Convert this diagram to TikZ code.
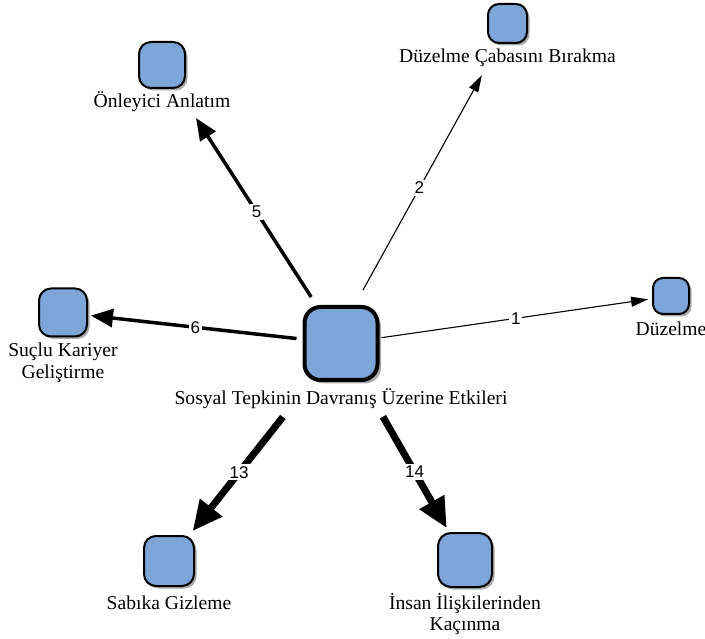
\documentclass[tikz,border=0pt]{standalone}
\usepackage{fontspec}
\setmainfont{Liberation Serif}
\newfontfamily\lsans{Liberation Sans}
\usetikzlibrary{arrows.meta,shadows}
\definecolor{boxblue}{RGB}{125,165,215}
\definecolor{shadowgray}{RGB}{170,170,170}
\begin{document}
\begin{tikzpicture}[x=1pt,y=-1pt,
  basebox/.style={draw=black, fill=boxblue, inner sep=0pt},
  smallbox/.style={basebox, line width=2pt, rounded corners=12pt,
    drop shadow={shadow xshift=2.5pt, shadow yshift=-2.5pt, fill=shadowgray, opacity=1}},
  bigbox/.style={basebox, line width=4pt, rounded corners=16pt,
    drop shadow={shadow xshift=3.5pt, shadow yshift=-3.5pt, fill=shadowgray, opacity=1}},
  lab/.style={font=\fontsize{19.6}{21}\selectfont, align=center, inner sep=0pt, anchor=base},
  elab/.style={font=\lsans\fontsize{17}{19}\selectfont, fill=white, inner sep=2pt},
  thinedge/.style={-{Triangle[length=17pt,width=10pt]}, line width=1.1pt},
  medge/.style={-{Triangle[length=22pt,width=18pt]}, line width=3.5pt},
  bigedge/.style={-{Triangle[length=30pt,width=27pt]}, line width=7pt}]
\useasboundingbox[fill=white] (0,0) rectangle (705,639);
% boxes
\node[bigbox, minimum size=73pt] (c) at (341,343.5) {};
\node[smallbox, minimum size=46pt] (on) at (162,65) {};
\node[smallbox, minimum size=39pt, rounded corners=11pt] (d2) at (507.5,23.5) {};
\node[smallbox, minimum size=36pt, rounded corners=10pt] (d1) at (671,296) {};
\node[smallbox, minimum size=48pt] (sk) at (63,312.5) {};
\node[smallbox, minimum size=50pt] (sg) at (169,561) {};
\node[smallbox, minimum size=54pt, rounded corners=13pt] (in) at (465,560) {};
% labels
\node[lab] (cl) at (341,405) {Sosyal Tepkinin Davranış Üzerine Etkileri};
\node[lab] (onl) at (162,108) {Önleyici Anlatım};
\node[lab] (d2l) at (507.5,63) {Düzelme Çabasını Bırakma};
\node[lab] (d1l) at (671,336) {Düzelme};
\node[lab] (skl) at (63,378) {Suçlu Kariyer\\Geliştirme};
\node[lab] (sgl) at (169,609) {Sabıka Gizleme};
\node[lab] (inl) at (465,630) {İnsan İlişkilerinden\\Kaçınma};
% edges
\draw[thinedge, shorten <=2pt, shorten >=4pt] (c) -- node[elab,pos=.5]{1} (d1);
\draw[thinedge, shorten <=61pt, shorten >=59pt] ([xshift=-7.6pt]c.center) -- node[elab,pos=.486]{2} ([xshift=3pt]d2.center);
\draw[medge, shorten <=9.5pt, shorten >=34.5pt] (c) -- node[elab,pos=.43]{5} (on);
\draw[medge, shorten <=6pt, shorten >=3pt] (c) -- node[elab,pos=.5]{6} (sk);
\draw[bigedge, shorten <=44.6pt, shorten >=5pt] (c) -- node[elab,pos=.59]{13} (sg);
\draw[bigedge, shorten <=40pt, shorten >=4.6pt] (c) -- node[elab,pos=.6]{14} (in);
\end{tikzpicture}
\end{document}
